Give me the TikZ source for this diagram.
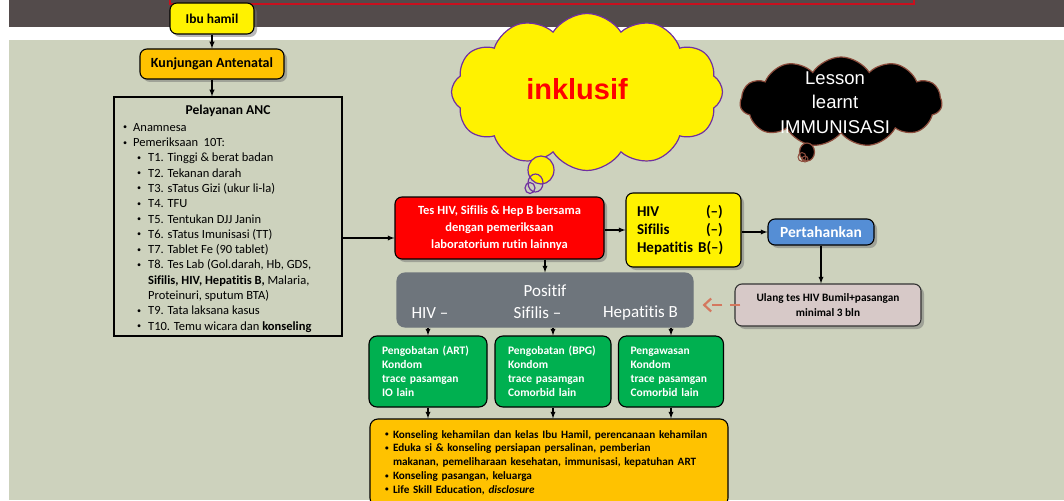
\documentclass[tikz,border=0pt]{standalone}
\usepackage{fontspec}
\setmainfont{Carlito}[Ligatures={TeX,NoCommon}]
\newfontfamily\arialfont{Liberation Sans}
\usetikzlibrary{arrows,arrows.meta,shadows,shapes.symbols}

\definecolor{BgGray}{RGB}{205,210,189}
\definecolor{BandDark}{RGB}{83,75,75}
\definecolor{FrameRed}{RGB}{200,16,30}
\definecolor{BoxGold}{RGB}{255,194,0}
\definecolor{BoxBlue}{RGB}{85,142,213}
\definecolor{BoxPink}{RGB}{215,201,200}
\definecolor{BoxGray}{RGB}{110,117,124}
\definecolor{BoxGreen}{RGB}{0,176,80}
\definecolor{DashSalmon}{RGB}{212,120,95}
\definecolor{CloudPurple}{RGB}{112,48,160}
\definecolor{CloudBrown}{RGB}{140,76,60}

\newcommand{\fs}[2]{\fontsize{#1}{#2}\selectfont}
\newcommand{\smallbul}{\raisebox{0.12em}{\scalebox{0.65}{\textbullet}}}
\newcommand{\itemA}{\makebox[10pt][l]{\smallbul}}
\newcommand{\itemB}{\hspace*{14pt}\makebox[11pt][l]{\smallbul}}
\newcommand{\itemC}{\makebox[8pt][l]{\smallbul}}

\begin{document}
\begin{tikzpicture}[x=1pt, y=-1pt]
\tikzstyle{BoxStyle}=[
shape = rectangle,
rounded corners = 7pt,
draw = black,
line width = 1.1pt,
inner sep = 0pt,
drop shadow = {shadow xshift=3pt, shadow yshift=-3pt, fill=black!55}]
\tikzstyle{FlatBox}=[
shape = rectangle,
rounded corners = 8pt,
draw = black,
line width = 1.1pt,
inner sep = 0pt]
\tikzstyle{CloudStyle}=[
shape = cloud,
cloud ignores aspect,
line width = 1.2pt,
inner sep = 0pt]
\tikzstyle{ArrowStyle}=[->, >=latex, line width = 1.3pt]
\useasboundingbox (0,0) rectangle (1064,500);
\clip (0,0) rectangle (1064,500);
% background
\fill[BandDark] (9,0) rectangle (1064,27);
\fill[BgGray] (9,40) rectangle (1064,500);
\draw[FrameRed, line width = 1.2pt] (170,-10) rectangle (914,4);
% clouds
\node[CloudStyle, cloud puffs = 12, cloud puff arc = 115, fill = yellow, draw = CloudPurple,
  minimum width = 271pt, minimum height = 157pt] (inkl) at (587,92) {};
\draw[CloudPurple, line width = 1.2pt, fill = yellow] (541,170) ellipse [x radius = 13, y radius = 14];
\draw[CloudPurple, line width = 1.2pt] (535.5,183) ellipse [x radius = 7.5, y radius = 9];
\draw[CloudPurple, line width = 1.2pt] (530,188) ellipse [x radius = 5, y radius = 5.5];
\node[text = red, font = \arialfont\bfseries\fs{29}{30}] (inklText) at (577,89) {inklusif};
\node[CloudStyle, cloud puffs = 11, cloud puff arc = 115, fill = black, draw = CloudBrown,
  minimum width = 202pt, minimum height = 90pt] (lesson) at (841,102) {};
\draw[CloudBrown, line width = 1.2pt, fill = black] (807,152) ellipse [x radius = 7.5, y radius = 9];
\draw[CloudBrown, line width = 1pt] (802,157) ellipse [x radius = 4, y radius = 4.5];
\draw[CloudBrown, line width = 1pt] (805,159) ellipse [x radius = 3, y radius = 3];
\node[text = white, align = center, font = \arialfont\fs{18.5}{24.5}] (lessonText) at (835,102.5)
  {Lesson\\learnt\\IMMUNISASI};
% boxes
\node[BoxStyle, fill = yellow, minimum width = 84pt, minimum height = 31pt,
  font = \bfseries\fs{13.5}{16}] (ibu) at (212,18.5) {Ibu hamil};
\node[BoxStyle, fill = BoxGold, minimum width = 144pt, minimum height = 30pt,
  font = \bfseries\fs{14}{16}] (anc) at (212,64) {Kunjungan Antenatal};
\node[draw = black, line width = 1.1pt, minimum width = 228pt, minimum height = 239pt] (pel) at (228,216.5) {};
\node[font = \bfseries\fs{13.5}{16}] (pelTitle) at (228,111) {Pelayanan ANC};
\node[anchor = north west, inner sep = 0pt, align = left, font = \fs{12.5}{15.3}] (pelList) at (123,123) {
\itemA Anamnesa\\
\itemA Pemeriksaan\ \ 10T:\\
\itemB T1. Tinggi \& berat badan\\
\itemB T2. Tekanan darah\\
\itemB T3. sTatus Gizi (ukur li-la)\\
\itemB T4. TFU\\
\itemB T5. Tentukan DJJ Janin\\
\itemB T6. sTatus Imunisasi (TT)\\
\itemB T7. Tablet Fe (90 tablet)\\
\itemB T8. Tes Lab (Gol.darah, Hb, GDS,\\
\hspace*{25pt}\textbf{Sifilis, HIV, Hepatitis B,} Malaria,\\
\hspace*{25pt}Proteinuri, sputum BTA)\\
\itemB T9. Tata laksana kasus\\
\itemB T10. Temu wicara dan \textbf{konseling}};
\node[BoxStyle, fill = red, text = white, align = center, minimum width = 209pt, minimum height = 62pt,
  font = \bfseries\fs{12.5}{17}] (tes) at (499.5,228)
  {Tes HIV, Sifilis \& Hep B bersama\\dengan pemeriksaan\\laboratorium rutin lainnya};
\node[BoxStyle, fill = yellow, align = left, text width = 93pt, inner xsep = 11pt,
  minimum width = 115pt, minimum height = 74pt, font = \bfseries\fs{15}{18}] (neg) at (683.5,230)
  {\makebox[69pt][l]{HIV}(--)\\\makebox[69pt][l]{Sifilis}(--)\\Hepatitis B(--)};
\node[BoxStyle, fill = BoxBlue, text = white, minimum width = 106pt, minimum height = 26pt,
  font = \bfseries\fs{15.5}{17}] (tahan) at (821,232) {Pertahankan};
\node[BoxStyle, fill = BoxPink, draw = black!80, align = center, minimum width = 186pt, minimum height = 42pt,
  font = \bfseries\fs{11.3}{15}] (ulang) at (828,305) {Ulang tes HIV Bumil+pasangan\\minimal 3 bln};
\node[FlatBox, fill = BoxGray, draw = BoxGray, minimum width = 296pt, minimum height = 54pt] (pos) at (545,300) {};
\node[text = white, font = \fs{17}{19}] (posTitle) at (545,291) {Positif};
\node[text = white, font = \fs{17}{19}] (posHiv) at (430,313) {HIV --};
\node[text = white, font = \fs{17}{19}] (posSif) at (537.5,313) {Sifilis --};
\node[text = white, font = \fs{17}{19}] (posHep) at (640.5,313) {Hepatitis B};
\node[FlatBox, fill = BoxGreen, text = white, align = left, inner xsep = 13pt, text width = 92pt,
  minimum height = 71pt, font = \bfseries\fs{11.5}{14}] (g1) at (428,371.5)
  {Pengobatan (ART)\\Kondom\\trace pasamgan\\IO lain};
\node[FlatBox, fill = BoxGreen, text = white, align = left, inner xsep = 13pt, text width = 90pt,
  minimum height = 71pt, font = \bfseries\fs{11.5}{14}] (g2) at (553,371.5)
  {Pengobatan (BPG)\\Kondom\\trace pasamgan\\Comorbid lain};
\node[FlatBox, fill = BoxGreen, text = white, align = left, inner xsep = 12pt, text width = 81pt,
  minimum height = 71pt, font = \bfseries\fs{11.5}{14}] (g3) at (671,371.5)
  {Pengawasan\\Kondom\\trace pasamgan\\Comorbid lain};
\node[FlatBox, fill = BoxGold, align = left, inner xsep = 15pt, text width = 328pt,
  minimum height = 87pt, font = \bfseries\fs{11.2}{13.7}] (edu) at (549,462.5) {
\itemC Konseling kehamilan dan kelas Ibu Hamil, perencanaan kehamilan\\
\itemC Eduka si \& konseling persiapan persalinan, pemberian\\
\hspace*{8pt}makanan, pemeliharaan kesehatan, immunisasi, kepatuhan ART\\
\itemC Konseling pasangan, keluarga\\
\itemC Life Skill Education, \textit{disclosure}};
% connectors
\coordinate (tesIn) at ([yshift=-10pt]tes.west);
\draw[ArrowStyle] (ibu) -- (anc);
\draw[ArrowStyle] (anc.south) -- (anc.south |- pel.north);
\draw[ArrowStyle] (pel.east |- tesIn) -- (tesIn);
\draw[ArrowStyle] (tes.east |- neg.west) -- (neg.west);
\draw[ArrowStyle] (neg.east |- tahan.west) -- (tahan.west);
\draw[ArrowStyle] (tahan.south) -- (tahan.south |- ulang.north);
\draw[ArrowStyle] (pos.north |- tes.south) -- (pos.north);
\draw[-{Straight Barb[length=7pt, width=13pt]}, DashSalmon, line width = 2.2pt, dash pattern = on 10pt off 8pt,
  shorten < = -6pt, shorten > = 9pt] (ulang.west) -- (ulang.west -| pos.east);
\draw[ArrowStyle] (g1.north |- pos.south) -- (g1.north);
\draw[ArrowStyle] (g2.north |- pos.south) -- (g2.north);
\draw[ArrowStyle] (g3.north |- pos.south) -- (g3.north);
\draw[ArrowStyle] (g1.south) -- (g1.south |- edu.north);
\draw[ArrowStyle] (g2.south) -- (g2.south |- edu.north);
\draw[ArrowStyle] (g3.south) -- (g3.south |- edu.north);
\end{tikzpicture}
\end{document}
